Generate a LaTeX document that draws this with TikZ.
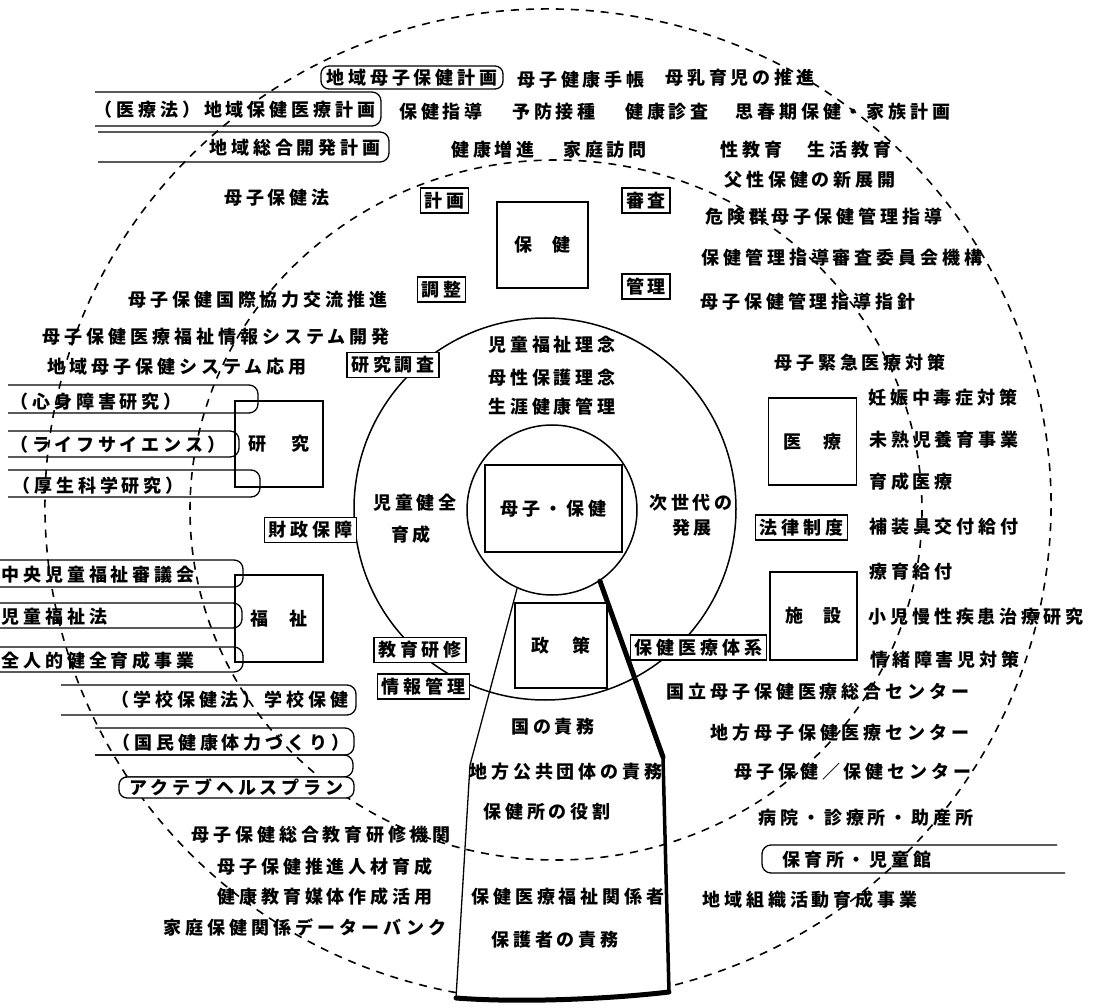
\documentclass[tikz,border=0pt]{standalone}
\usepackage{fontspec}
\setmainfont{Noto Sans CJK JP}[LetterSpace=22]
\newcommand\openbar[4]{\draw[rim] (#1,#3) -- (#2,#3) -- (#2,#4) -- (#1,#4);}
\begin{document}
\begin{tikzpicture}[x=1pt, y=-1pt,
        every node/.style={font=\fontsize{18}{20}\selectfont\bfseries, inner sep=0pt},
        tag/.style={draw, fill=white, line width=1.3pt, inner xsep=4pt, minimum height=25pt},
        blk/.style={draw, fill=white, line width=1.3pt},
        pill/.style={draw, fill=white, line width=1.3pt, rounded corners=8pt},
        rim/.style={line width=1.3pt, rounded corners=9pt},
        ring/.style={circle, draw, line width=1.5pt},
        dsh/.style={line width=1.6pt, dash pattern=on 8pt off 7pt}]
  \useasboundingbox (0,0) rectangle (1096,1008);
  \draw[dsh] (556,510) ellipse [x radius=366, y radius=350];
  \draw[dsh] (548,505) ++(100.5:503 and 496) arc[start angle=100.5, end angle=436, x radius=503, y radius=496];
  \node[ring, minimum size=382pt] (sphere) at (545,509) {};
  \node[ring, minimum size=170pt] (core) at (552,510) {};
  \coordinate (vl) at (470,765);
  \coordinate (vr) at (663,757);
  \coordinate (bl) at (456,998);
  \coordinate (br) at (669,992);
  \draw[line width=1.3pt] (core.246) -- (vl) -- (bl);
  \draw[line width=5pt, line cap=round] (core.304) -- (vr);
  \draw[line width=3.5pt, line cap=round] (vr) -- (br);
  \draw[line width=5pt, line cap=round] (bl) .. controls (520,1003) and (610,999) .. (br);
  \openbar{95}{381}{92}{126}
  \openbar{98}{389}{132}{162}
  \openbar{8}{258}{385}{413}
  \openbar{8}{239}{431}{457}
  \openbar{8}{260}{470}{497}
  \openbar{-5}{243}{560}{587}
  \openbar{-5}{242}{603}{628}
  \openbar{-5}{243}{647}{672}
  \openbar{61}{356}{685}{715}
  \openbar{95}{354}{728}{755}
  \draw[rim] (95,755) -- (353,755) -- (353,777) -- (125,777);
  \draw[rim] (1057,845) -- (762,845) -- (762,873) -- (1065,873);
  \node[blk, minimum width=91pt, minimum height=86pt] (hoken) at (542.5,245) {保\hspace{21pt}健};
  \node[blk, minimum width=88pt, minimum height=87pt] (iryo) at (812.5,441.5) {医\hspace{22pt}療};
  \node[blk, minimum width=87pt, minimum height=88pt] (shisetsu) at (813.5,616) {施\hspace{21pt}設};
  \node[blk, minimum width=92pt, minimum height=85pt] (seisaku) at (561,645.5) {政\hspace{24pt}策};
  \node[blk, minimum width=137pt, minimum height=87pt] (boshi) at (553.5,508.5) {母子・保健};
  \node[blk, fill=none, minimum width=88pt, minimum height=86pt] (kenkyu) at (279,444) {研\hspace{25pt}究};
  \node[blk, fill=none, minimum width=88pt, minimum height=87pt] (fukushi) at (279,618.5) {福\hspace{22pt}祉};
  \node[pill, minimum width=182pt, minimum height=23pt] (chiikikeikaku) at (412,77.5) {地域母子保健計画};
  \node[pill, minimum width=235pt, minimum height=21pt] (plan) at (236.5,787.5) {アクテブヘルスプラン};
  \node[tag] (keikaku) at (444.5,200.5) {計画};
  \node[tag] (shinsakai) at (646,200.5) {審査};
  \node[tag] (chosei) at (441.5,289.5) {調整};
  \node[tag] (kanri) at (646,286.5) {管理};
  \node[tag] (chosa) at (393,365) {研究調査};
  \node[tag] (zaisei) at (310.5,530) {財政保障};
  \node[tag] (kyoiku) at (420,650) {教育研修};
  \node[tag] (johokanri) at (423.5,686.5) {情報管理};
  \node[tag] (taikei) at (698.5,647.5) {保健医療体系};
  \node[tag] (horitsu) at (801.5,527.5) {法律制度};
  \node (techo) at (581,80) {母子健康手帳};
  \node (bonyu) at (740,78) {母乳育児の推進};
  \node (iryoho) at (235,110) {（医療法）地域保健医療計画};
  \node (shido) at (441,112) {保健指導};
  \node (sesshu) at (554,112) {予防接種};
  \node (shinsa) at (667,112) {健康診査};
  \node (shishunki) at (843,112) {思春期保健・家族計画};
  \node (sogo) at (295,148) {地域総合開発計画};
  \node (zoshin) at (493,150) {健康増進};
  \node (homon) at (605,150) {家庭訪問};
  \node (seikyoiku) at (806,150) {性教育　生活教育};
  \node (fusei) at (810,180) {父性保健の新展開};
  \node (hokenho) at (277,198) {母子保健法};
  \node (kikengun) at (824,217) {危険群母子保健管理指導};
  \node (iinkai) at (842,258) {保健管理指導審査委員会機構};
  \node (shishin) at (808,302) {母子保健管理指導指針};
  \node (kokusai) at (258,300) {母子保健国際協力交流推進};
  \node (johosys) at (216,337) {母子保健医療福祉情報システム開発};
  \node (oyo) at (177,367) {地域母子保健システム応用};
  \node (rinen) at (552,345) {児童福祉理念};
  \node (bosei) at (552,378) {母性保護理念};
  \node (shogai) at (552,407) {生涯健康管理};
  \node (kinkyu) at (860,363) {母子緊急医療対策};
  \node (ninshin) at (943,398) {妊娠中毒症対策};
  \node (mijuku) at (944,440) {未熟児養育事業};
  \node (ikusei) at (911,482) {育成医療};
  \node (kenzen) at (415,503) {児童健全};
  \node (kenzenb) at (411,535) {育成};
  \node (jisedai) at (691,503) {次世代の};
  \node (hatten) at (692,528) {発展};
  \node (hosogu) at (944,527) {補装具交付給付};
  \node (ryoiku) at (911,572) {療育給付};
  \node (mansei) at (976,617) {小児慢性疾患治療研究};
  \node (jocho) at (945,660) {情緒障害児対策};
  \node (kokuritsu) at (818,692) {国立母子保健医療総合センター};
  \node (kuni) at (553,727) {国の責務};
  \node (chiho) at (840,733) {地方母子保健医療センター};
  \node (kokyo) at (566,772) {地方公共団体の責務};
  \node (hcenter) at (853,772) {母子保健／保健センター};
  \node (hokenjo) at (547,812) {保健所の役割};
  \node (byoin) at (866,818) {病院・診療所・助産所};
  \node (kenshu) at (321,835) {母子保健総合教育研修機関};
  \node (jinzai) at (325,867) {母子保健推進人材育成};
  \node (baitai) at (325,897) {健康教育媒体作成活用};
  \node (databank) at (305,927) {家庭保健関係データーバンク};
  \node (soshiki) at (810,900) {地域組織活動育成事業};
  \node (kankei) at (568,897) {保健医療福祉関係者};
  \node (hogosha) at (555,940) {保護者の責務};
  \node[anchor=west] (shinshin) at (10,402) {（心身障害研究）};
  \node[anchor=west] (life) at (10,445) {（ライフサイエンス）};
  \node[anchor=west] (kosei) at (12,486) {（厚生科学研究）};
  \node[anchor=west] (chuo) at (1,575) {中央児童福祉審議会};
  \node[anchor=west] (fukushiho) at (1,617) {児童福祉法};
  \node[anchor=west] (zenjin) at (1,661) {全人的健全育成事業};
  \node (gakko) at (230,700) {（学校保健法）学校保健};
  \node (tairyoku) at (231,743) {（国民健康体力づくり）};
  \node (hoikusho) at (857,860) {保育所・児童館};
\end{tikzpicture}
\end{document}
